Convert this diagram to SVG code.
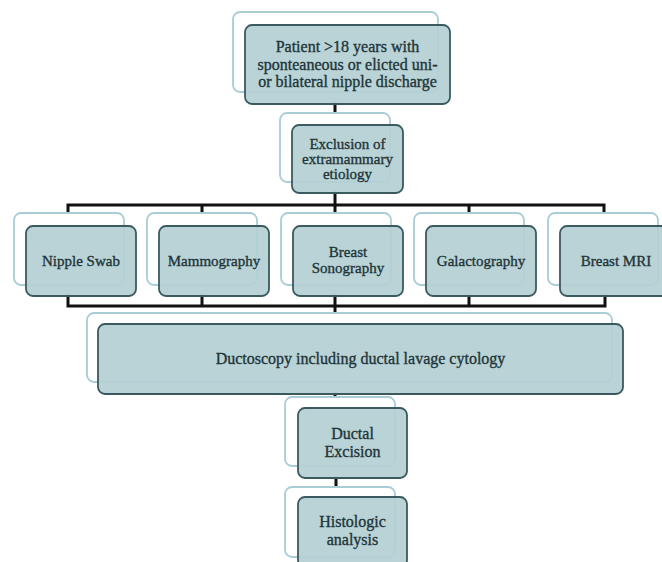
<svg xmlns="http://www.w3.org/2000/svg" width="662" height="562" viewBox="0 0 662 562">
<style>
.bk{fill:#ffffff;stroke:#a9cdd6;stroke-width:1.8}
.fr{fill:#b5d0d4;fill-opacity:0.93;stroke:#3a5a60;stroke-width:1.8}
.t{font-family:"Liberation Serif","Times New Roman",serif;fill:#1e3539;text-anchor:middle;stroke:#1e3539;stroke-width:0.35}
.big{font-size:16px}
.sm{font-size:15px}
.c{fill:none;stroke:#111111;stroke-width:3;stroke-linecap:square}
</style>
<rect width="662" height="562" fill="#ffffff"/>
<g id="connectors">
<path class="c" d="M335,104V113"/>
<path class="c" d="M335,193V205"/>
<path class="c" d="M68,213V205H604V213M202,205V213M335,205V213M469,205V213"/>
<path class="c" d="M68,296V306H605V296M202,296V306M335,296V313M469,296V306"/>
<path class="c" d="M335,394V398"/>
<path class="c" d="M336,478V487"/>
</g>
<g id="n-patient">
<rect class="bk" x="233" y="12" width="205" height="80" rx="7"/>
<rect class="fr" x="245" y="25" width="205" height="79" rx="7"/>
<text class="t big" x="347.5" y="52">Patient &gt;18 years with</text>
<text class="t big" x="347.5" y="70">sponteaneous or elicted uni-</text>
<text class="t big" x="347.5" y="87">or bilateral nipple discharge</text>
</g>
<g id="n-exclusion">
<rect class="bk" x="280" y="113" width="110" height="69" rx="7"/>
<rect class="fr" x="292" y="125" width="111" height="68" rx="7"/>
<text class="t sm" x="347.5" y="149">Exclusion of</text>
<text class="t sm" x="347.5" y="164">extramammary</text>
<text class="t sm" x="347.5" y="179">etiology</text>
</g>
<g id="n-swab">
<rect class="bk" x="14" y="213" width="110" height="72" rx="7"/>
<rect class="fr" x="26" y="226" width="110" height="70" rx="7"/>
<text class="t sm" x="81" y="266">Nipple Swab</text>
</g>
<g id="n-mammo">
<rect class="bk" x="147" y="213" width="110" height="72" rx="7"/>
<rect class="fr" x="159" y="226" width="110" height="70" rx="7"/>
<text class="t sm" x="214" y="266">Mammography</text>
</g>
<g id="n-sono">
<rect class="bk" x="281" y="213" width="110" height="72" rx="7"/>
<rect class="fr" x="293" y="226" width="110" height="70" rx="7"/>
<text class="t sm" x="348" y="257">Breast</text>
<text class="t sm" x="348" y="273">Sonography</text>
</g>
<g id="n-galacto">
<rect class="bk" x="414" y="213" width="110" height="72" rx="7"/>
<rect class="fr" x="426" y="226" width="110" height="70" rx="7"/>
<text class="t sm" x="481" y="266">Galactography</text>
</g>
<g id="n-mri">
<rect class="bk" x="548" y="213" width="110" height="72" rx="7"/>
<rect class="fr" x="560" y="226" width="110" height="70" rx="7"/>
<text class="t sm" x="616" y="266">Breast MRI</text>
</g>
<g id="n-ductoscopy">
<rect class="bk" x="87" y="313" width="525" height="69" rx="7"/>
<rect class="fr" x="98" y="324" width="525" height="70" rx="7"/>
<text class="t big" x="360.5" y="364">Ductoscopy including ductal lavage cytology</text>
</g>
<g id="n-excision">
<rect class="bk" x="285" y="397" width="110" height="69" rx="7"/>
<rect class="fr" x="298" y="408" width="109" height="70" rx="7"/>
<text class="t big" x="352.5" y="439">Ductal</text>
<text class="t big" x="352.5" y="457">Excision</text>
</g>
<g id="n-histologic">
<rect class="bk" x="285" y="487" width="110" height="70" rx="7"/>
<rect class="fr" x="298" y="497" width="109" height="70" rx="7"/>
<text class="t big" x="352.5" y="527">Histologic</text>
<text class="t big" x="352.5" y="545">analysis</text>
</g>
</svg>
